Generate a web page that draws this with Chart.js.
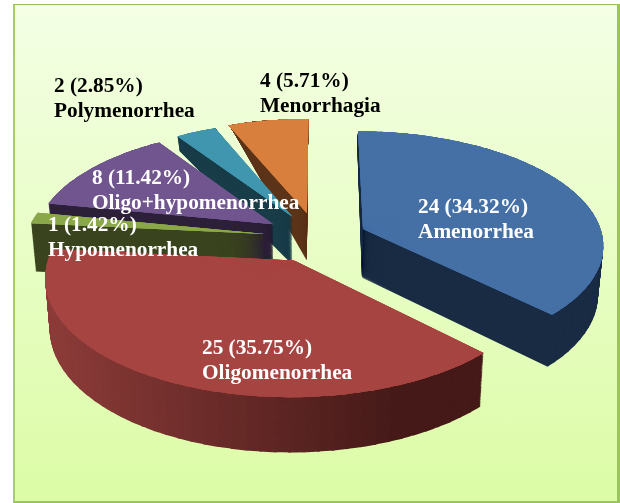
<!DOCTYPE html>
<html>
<head>
<meta charset="utf-8">
<style>
html,body{margin:0;padding:0;background:#fff;width:620px;height:503px;overflow:hidden}
#frame{position:absolute;left:13px;top:4px;width:602px;height:496px;border-style:solid;border-width:1px 3px 2px 2px;border-color:#92bf4e #9cc45c #9cc45c #a6cc6c;background:linear-gradient(#f4ffe5,#dcfca6)}
canvas{position:absolute;left:0;top:0}
</style>
<script src="https://cdn.jsdelivr.net/npm/chart.js@4"></script>
</head>
<body>
<div id="frame"></div>
<canvas id="c" width="620" height="503"></canvas>
<script>
const categories = ['Amenorrhea','Oligomenorrhea','Hypomenorrhea','Oligo+hypomenorrhea','Polymenorrhea','Menorrhagia'];
const counts = [24,25,1,8,2,4];
const percents = ['34.32','35.75','1.42','11.42','2.85','5.71'];

const topColors = ['#4570a6','#a64441','#8aa84a','#70558f','#3f96ae','#d87f3d'];
const wallColors = ['#1a2c44',null,'#3a441e','#2d2139','#193c49','#5c3419'];
const labelColors = ['#fff','#fff','#fff','#fff','#000','#000'];
const labelAnchors = [[418,213],[202,354],[48,231],[92,184],[54,92],[260,87]];
const lineGap = 24.5;
const labelFont = 'bold 21.3px "Liberation Serif"';
// explosion of each slice in the pie's own plane (radius = 1)
const explode = [[.181,-.081],[-.105,.195],[-.230,-.0354],[-.198,-.1241],[-.118,-.1931],[-.056,-.2272]];
// perspective of the pie's plane
const view = {cx:320, cy:238, a:240, b:112.5, k:-.13};
const drawOrder = [5,4,3,2,0,1];

function project(px,py){
  const w = 1 + view.k*py;
  return [view.cx + view.a*px/w, view.cy + view.b*py/w];
}
function depthAt(p){
  const [x,y] = p;
  let dy;
  if (y <= 128) dy = 0;
  else if (y < 215) dy = 48*Math.sqrt((y-128)/87);
  else dy = 48 + (y-215)*0.04;
  return [-0.0175*(x-300), dy];
}
function lerpHex(c0,c1,t){
  t = Math.max(0,Math.min(1,t));
  const f = (c,i)=>parseInt(c.substr(1+2*i,2),16);
  const v = [0,1,2].map(i=>Math.round(f(c0,i)+(f(c1,i)-f(c0,i))*t));
  return 'rgb('+v.join(',')+')';
}
function wedge(ctx,el,idx,th0,th1,t,color){
  const s = explode[idx], R = el.outerRadius;
  const lift = q => { if(!t) return q; const d = depthAt(q); return [q[0]+d[0]*t,q[1]+d[1]*t]; };
  const P = lift(project(s[0],s[1]));
  const A = lift(project(s[0]+Math.cos(th0),s[1]+Math.sin(th0)));
  const B = lift(project(s[0]+Math.cos(th1),s[1]+Math.sin(th1)));
  const l0=[R*Math.cos(th0),R*Math.sin(th0)], l1=[R*Math.cos(th1),R*Math.sin(th1)];
  const det = l0[0]*l1[1]-l1[0]*l0[1];
  const v0=[A[0]-P[0],A[1]-P[1]], v1=[B[0]-P[0],B[1]-P[1]];
  const m11=( v0[0]*l1[1]-v1[0]*l0[1])/det, m12=(-v0[0]*l1[0]+v1[0]*l0[0])/det;
  const m21=( v0[1]*l1[1]-v1[1]*l0[1])/det, m22=(-v0[1]*l1[0]+v1[1]*l0[0])/det;
  const saved = {o:el.options,s:el.startAngle,e:el.endAngle,c:el.circumference};
  el.options = {backgroundColor:color,borderColor:color,borderWidth:0,borderRadius:0,offset:0,spacing:0,circular:true,borderAlign:'center',borderJoinStyle:'round'};
  el.startAngle=th0; el.endAngle=th1; el.circumference=th1-th0;
  ctx.save();
  ctx.transform(m11,m21,m12,m22,P[0]-m11*el.x-m12*el.y,P[1]-m21*el.x-m22*el.y);
  el.draw(ctx);
  ctx.restore();
  el.options=saved.o; el.startAngle=saved.s; el.endAngle=saved.e; el.circumference=saved.c;
}
function slices(start,end,step,overlap){
  const out=[], n=Math.max(1,Math.ceil((end-start)/step));
  for(let i=0;i<n;i++){
    const a=start+(end-start)*i/n;
    const b=Math.min(end,start+(end-start)*(i+1)/n+overlap);
    out.push([a,b]);
  }
  return out;
}
function wallColor(idx,th0,th1){
  if (wallColors[idx]) return wallColors[idx];
  const s=explode[idx], m=(th0+th1)/2;
  const x=project(s[0]+Math.cos(m),s[1]+Math.sin(m))[0];
  return lerpHex('#8c3c39','#451a18',(x-50)/350);
}
const pie3d = {
  id:'pie3d',
  beforeDatasetsDraw(chart){
    const ctx=chart.ctx, els=chart.getDatasetMeta(0).data;
    drawOrder.forEach(idx=>{
      const el=els[idx], st=el.startAngle, en=el.endAngle;
      const wallParts=slices(st,en,Math.PI/60,0.01), topParts=slices(st,en,Math.PI/60,0.03);
      for(let l=50;l>=1;l--){
        wallParts.forEach(([a,b])=>wedge(ctx,el,idx,a,b,l/50,wallColor(idx,a,b)));
      }
      for(let pass=0;pass<3;pass++){
        topParts.forEach(([a,b])=>wedge(ctx,el,idx,a,b,0,topColors[idx]));
      }
    });
    return false;
  },
  afterDraw(chart){
    const ctx=chart.ctx;
    ctx.save();
    ctx.font=labelFont; ctx.textAlign='left'; ctx.textBaseline='alphabetic';
    categories.forEach((name,i)=>{
      ctx.fillStyle=labelColors[i];
      const [x,y]=labelAnchors[i];
      ctx.fillText(counts[i]+' ('+percents[i]+'%)',x,y);
      ctx.fillText(name,x,y+lineGap);
    });
    ctx.restore();
  }
};
new Chart(document.getElementById('c'),{
  type:'pie',
  data:{labels:categories,datasets:[{data:counts,backgroundColor:topColors,borderWidth:0}]},
  options:{responsive:false,animation:false,plugins:{legend:{display:false},tooltip:{enabled:false}},events:[]},
  plugins:[pie3d]
});
</script>
</body>
</html>
